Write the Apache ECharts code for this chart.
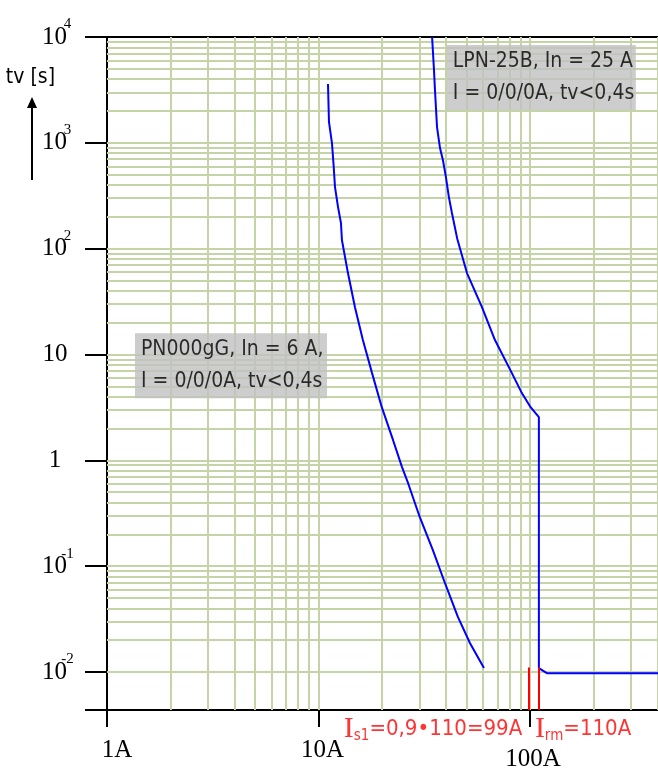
<!DOCTYPE html>
<html><head><meta charset="utf-8">
<script src="https://cdn.jsdelivr.net/npm/echarts@6/dist/echarts.min.js"></script>
<style>html,body{margin:0;padding:0;background:#fff}#c{width:658px;height:773px}</style>
</head><body><div id="c"></div>
<script>
// ---------- data ----------
const xMin = 1, xMax = 500;            // current axis [A] (log)
const yMin = 0.004375, yMax = 10000;   // time axis [s] (log)

const xTickValues = [1, 10, 100];
const xTickLabels = ['1A', '10A', '100A'];

const yTickExponents = [-2, -1, 0, 1, 2, 3, 4];
const yTickBase = ['10', '10', '1', '10', '10', '10', '10'];
const yTickSup  = ['-2', '-1', '', '', '2', '3', '4'];

const gridMultipliers = [1, 2, 3, 4, 5, 6, 7, 8, 9];
const xGridDecades = [1, 10, 100];
const yGridDecades = [0.001, 0.01, 0.1, 1, 10, 100, 1000];

// PN000gG, In = 6 A
const pnCurrent = [11.08, 11.2, 11.57, 11.76, 11.96, 12.36, 12.76, 12.9, 13.77, 14.86, 16.2, 17.9, 19.9, 22.5, 24.8, 26.5, 30.1, 34.7, 39.6, 45.6, 52.0, 60.5];
const pnTime    = [3600, 1574, 995, 644, 382, 247, 175, 120, 58.8, 28.0, 13.7, 6.67, 3.18, 1.55, 0.863, 0.608, 0.290, 0.1416, 0.069, 0.033, 0.0187, 0.0109];

// LPN-25B, In = 25 A
const lpnCurrent = [34.4, 35.1, 35.5, 36.3, 37.5, 38.7, 40.0, 41.3, 42.7, 45.2, 50.3, 59.2, 68.2, 82.0, 91.4, 100.5, 110, 110, 120, 500];
const lpnTime    = [10000, 5000, 3155, 1409, 893, 688, 475, 307, 217, 125, 58.8, 28.0, 13.7, 6.67, 4.32, 3.18, 2.56, 0.0109, 0.00975, 0.00975];

// selectivity markers
const markerCurrents = [99, 110];
const markerTop = 0.011;
const markerTexts = [
  '{i|I}{s|s1}{t|=0,9•110=99A}',
  '{i|I}{s|rm}{t|=110A}'
];

// device boxes
const boxTexts = [
  'LPN-25B, In = 25 A\nI = 0/0/0A, tv<0,4s',
  'PN000gG, In = 6 A,\nI = 0/0/0A, tv<0,4s'
];
const boxAnchors = [[40.4, 4140], [1.356, 7.85]];

// ---------- build ----------
const gridX = [], gridY = [];
xGridDecades.forEach(d => gridMultipliers.forEach(m => { const v = d * m; if (v > xMin && v < xMax) gridX.push(+v.toPrecision(6)); }));
yGridDecades.forEach(d => gridMultipliers.forEach(m => { const v = d * m; if (v > yMin && v < yMax) gridY.push(+v.toPrecision(6)); }));

const pnData = pnCurrent.map((c, i) => [c, pnTime[i]]);
const lpnData = lpnCurrent.map((c, i) => [c, lpnTime[i]]);

const serif = "'Liberation Serif', 'DejaVu Serif', serif";
const narrow = "'Liberation Sans Narrow', 'DejaVu Sans Condensed', 'Liberation Sans', sans-serif";
const GRID_COLOR = '#c4d4a6';
const BLUE = '#0000ff';
const RED = '#ff0000';

const chart = echarts.init(document.getElementById('c'), null, { renderer: 'canvas' });
chart.setOption({
  animation: false,
  backgroundColor: '#ffffff',
  grid: { left: 107, top: 37, right: -20, bottom: 63, show: true, borderColor: '#000', borderWidth: 2,
          backgroundColor: 'transparent', containLabel: false, outerBoundsMode: 'none' },
  xAxis: {
    type: 'log', logBase: 10, min: xMin, max: xMax,
    axisLine: { show: true, lineStyle: { color: '#000', width: 2 } },
    axisTick: { show: true, length: 17, lineStyle: { color: '#000', width: 2 } },
    splitLine: { show: false }, minorTick: { show: false },
    axisLabel: {
      margin: 28, color: '#000', fontFamily: serif, fontSize: 25,
      formatter: v => {
        const i = xTickValues.findIndex(t => Math.abs(Math.log10(v) - Math.log10(t)) < 1e-6);
        if (i < 0) return '';
        return '{' + ['a', 'b', 'c'][i] + '|' + xTickLabels[i] + '}';
      },
      rich: {
        a: { fontFamily: serif, fontSize: 25, color: '#000', padding: [0, 0, 0, 20] },
        b: { fontFamily: serif, fontSize: 25, color: '#000', padding: [0, 0, 0, 8] },
        c: { fontFamily: serif, fontSize: 25, color: '#000', padding: [9, 0, 0, 6] }
      }
    }
  },
  yAxis: {
    type: 'log', logBase: 10, min: yMin, max: yMax,
    name: 'tv [s]', nameLocation: 'end', nameGap: -41,
    nameTextStyle: { fontFamily: narrow, fontSize: 21, color: '#000', align: 'right', verticalAlign: 'middle', padding: [0, 52, 0, 0] },
    axisLine: { show: true, lineStyle: { color: '#000', width: 2 } },
    axisTick: { show: true, length: 22, lineStyle: { color: '#000', width: 2 } },
    splitLine: { show: false }, minorTick: { show: false },
    axisLabel: {
      margin: 52, align: 'center', color: '#000',
      formatter: v => {
        const e = Math.log10(v), k = Math.round(e);
        if (Math.abs(e - k) > 1e-6) return '';
        const i = yTickExponents.indexOf(k);
        if (i < 0) return '';
        return yTickSup[i] ? '{b|' + yTickBase[i] + '}{s|' + yTickSup[i] + '}' : '{b|' + yTickBase[i] + '}';
      },
      rich: {
        b: { fontFamily: serif, fontSize: 25, lineHeight: 40, color: '#000', verticalAlign: 'middle' },
        s: { fontFamily: serif, fontSize: 15, lineHeight: 15, color: '#000', verticalAlign: 'top', width: 1, align: 'left' }
      }
    }
  },
  graphic: [
    { type: 'line', shape: { x1: 32, y1: 180, x2: 32, y2: 104 }, style: { stroke: '#000', lineWidth: 2 }, silent: true },
    { type: 'polygon', shape: { points: [[32, 97], [27, 108], [37, 108]] }, style: { fill: '#000' }, silent: true }
  ],
  series: [
    {
      name: 'grid', type: 'line', data: [], silent: true, z: 1,
      markLine: {
        silent: true, symbol: ['none', 'none'], animation: false, z: 1,
        label: { show: false },
        lineStyle: { color: GRID_COLOR, width: 2, type: 'solid' },
        emphasis: { disabled: true },
        data: gridX.map(v => ({ xAxis: v })).concat(gridY.map(v => ({ yAxis: v })))
      }
    },
    {
      name: 'PN000gG', type: 'line', data: pnData, showSymbol: false, symbol: 'none', z: 3, silent: true,
      lineStyle: { color: BLUE, width: 2 }
    },
    {
      name: 'LPN-25B', type: 'line', data: lpnData, showSymbol: false, symbol: 'none', z: 3, silent: true,
      lineStyle: { color: BLUE, width: 2 }
    },
    {
      name: 'markers', type: 'line', data: [], silent: true, z: 4,
      markLine: {
        silent: true, symbol: ['none', 'none'], animation: false, label: { show: false }, z: 4,
        lineStyle: { color: RED, width: 2, type: 'solid' },
        emphasis: { disabled: true },
        data: markerCurrents.map(c => [{ coord: [c, markerTop] }, { coord: [c, yMin] }])
      }
    },
    {
      name: 'markerLabels', type: 'scatter', symbolSize: 0, silent: true, z: 5, clip: false,
      data: markerCurrents.map((c, i) => ({
        value: [c, yMin],
        label: {
          show: true, formatter: markerTexts[i],
          position: i === 0 ? 'left' : 'right', distance: i === 0 ? 7 : 0,
          offset: i === 0 ? [0, 19] : [-4, 19],
          rich: {
            i: { fontFamily: serif, fontSize: 30, lineHeight: 30, color: RED, verticalAlign: 'middle' },
            s: { fontFamily: narrow, fontSize: 15, lineHeight: 15, color: RED, verticalAlign: 'bottom' },
            t: { fontFamily: narrow, fontSize: 22, lineHeight: 30, color: RED, verticalAlign: 'middle' }
          }
        }
      }))
    },
    {
      name: 'boxes', type: 'scatter', symbolSize: 0, silent: true, z: 6, clip: false,
      data: boxAnchors.map((a, i) => ({
        value: a,
        label: {
          show: true, formatter: boxTexts[i], position: 'right', distance: 0,
          align: 'left', verticalAlign: 'middle',
          fontFamily: narrow, fontSize: 21, lineHeight: 32, color: '#000',
          backgroundColor: '#c0c0c0', padding: [1, 0, 1, 6],
          width: i === 0 ? 183 : 186, height: 63
        }
      }))
    }
  ]
});
</script>
</body></html>
